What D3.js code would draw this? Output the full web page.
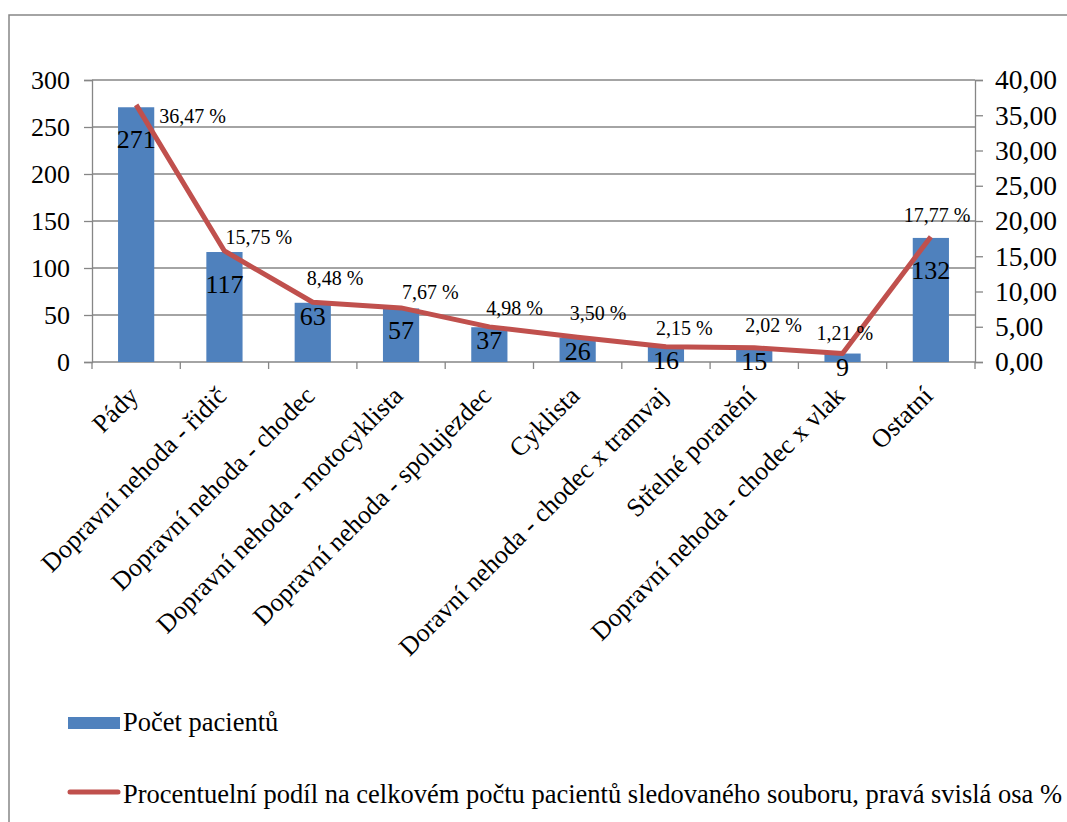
<!DOCTYPE html>
<html>
<head>
<meta charset="utf-8">
<script src="https://d3js.org/d3.v7.min.js"></script>
<style>
body { margin: 0; background: #fff; }
</style>
</head>
<body>
<svg id="chart" width="1067" height="822"></svg>
<script>
// data
var categories = ["Pády", "Dopravní nehoda - řidič", "Dopravní nehoda - chodec",
  "Dopravní nehoda - motocyklista", "Dopravní nehoda - spolujezdec", "Cyklista",
  "Doravní nehoda - chodec x tramvaj", "Střelné poranění",
  "Dopravní nehoda - chodec x vlak", "Ostatní"];
var patients = [271, 117, 63, 57, 37, 26, 16, 15, 9, 132];
var percent = [36.47, 15.75, 8.48, 7.67, 4.98, 3.50, 2.15, 2.02, 1.21, 17.77];
var leftTicks = [0, 50, 100, 150, 200, 250, 300];
var rightTicks = [0, 5, 10, 15, 20, 25, 30, 35, 40];
var barName = "Počet pacientů";
var lineName = "Procentuelní podíl na celkovém počtu pacientů sledovaného souboru, pravá svislá osa %";

var blue = "#4F81BD", red = "#C0504D", grey = "#868686";
var plotL = 92, plotR = 975, plotT = 80, plotB = 362;
var serif = "'Liberation Serif', serif";

var svg = d3.select("#chart");

// outer frame (right and bottom edges fall outside the picture)
svg.append("rect").attr("x", 9).attr("y", 15).attr("width", 1200).attr("height", 1000)
  .attr("fill", "none").attr("stroke", grey).attr("stroke-width", 1.5);

var x = d3.scaleBand().domain(categories).range([plotL, plotR])
  .paddingInner(0.59).paddingOuter(0.295);
var step = (plotR - plotL) / categories.length;
var yL = d3.scaleLinear().domain([0, 300]).range([plotB, plotT]);
var yR = d3.scaleLinear().domain([0, 40]).range([plotB, plotT]);

// gridlines
svg.append("g").selectAll("line").data(leftTicks.filter(function(d){ return d > 0; }))
  .enter().append("line")
  .attr("x1", plotL).attr("x2", plotR)
  .attr("y1", function(d){ return yL(d); }).attr("y2", function(d){ return yL(d); })
  .attr("stroke", grey).attr("stroke-width", 1.3);

// left axis
var axL = svg.append("g").attr("transform", "translate(" + plotL + ",0)")
  .call(d3.axisLeft(yL).tickValues(leftTicks).tickSize(8).tickPadding(14));
// right axis
var axR = svg.append("g").attr("transform", "translate(" + plotR + ",0)")
  .call(d3.axisRight(yR).tickValues(rightTicks).tickSize(8).tickPadding(12)
    .tickFormat(function(d){ return d3.format(".2f")(d).replace(".", ","); }));
[axL, axR].forEach(function(a){
  a.select(".domain").attr("stroke", grey).attr("stroke-width", 1.3);
  a.selectAll(".tick line").attr("stroke", grey).attr("stroke-width", 1.3);
  a.selectAll("text").attr("fill", "#000").style("font-size", "26px");
});
axR.selectAll("text").style("font-size", "27.5px");

// bottom axis line and category ticks
svg.append("line").attr("x1", plotL).attr("x2", plotR).attr("y1", plotB).attr("y2", plotB)
  .attr("stroke", grey).attr("stroke-width", 1.3);
svg.append("g").selectAll("line").data(d3.range(categories.length + 1)).enter().append("line")
  .attr("x1", function(i){ return plotL + i * step; }).attr("x2", function(i){ return plotL + i * step; })
  .attr("y1", plotB).attr("y2", plotB + 7)
  .attr("stroke", grey).attr("stroke-width", 1.3);

// bars
svg.append("g").selectAll("rect").data(patients).enter().append("rect")
  .attr("x", function(d, i){ return x(categories[i]); })
  .attr("y", function(d){ return yL(d); })
  .attr("width", x.bandwidth())
  .attr("height", function(d){ return plotB - yL(d); })
  .attr("fill", blue);

// bar labels (some pushed down a bit, like in the original)
var barNudge = [19, 19, 0, 9, 0, 0, 0, 0, 0, 19];
svg.append("g").selectAll("text").data(patients).enter().append("text")
  .attr("x", function(d, i){ return x(categories[i]) + x.bandwidth() / 2; })
  .attr("y", function(d, i){ return yL(d) + 22 + barNudge[i]; })
  .attr("text-anchor", "middle").style("font-size", "26px")
  .text(function(d){ return d; });

// line
var cx = function(i){ return x(categories[i]) + x.bandwidth() / 2; };
var line = d3.line().x(function(d, i){ return cx(i); }).y(function(d){ return yR(d); });
svg.append("path").datum(percent).attr("d", line)
  .attr("fill", "none").attr("stroke", red).attr("stroke-width", 5)
  .attr("stroke-linejoin", "round");

// percent labels
var pctNudge = [[23, 18], [1, -7], [-6, -17], [1, -9], [-3, -12], [-8, -17], [-10, -12], [-9, -16], [-26, -13], [-27, -15]];
svg.append("g").selectAll("text").data(percent).enter().append("text")
  .attr("x", function(d, i){ return cx(i) + pctNudge[i][0]; })
  .attr("y", function(d, i){ return yR(d) + pctNudge[i][1]; })
  .style("font-size", "20px")
  .text(function(d){ return d3.format(".2f")(d).replace(".", ",") + " %"; });

// category labels
svg.append("g").selectAll("text").data(categories).enter().append("text")
  .attr("transform", function(d, i){ return "translate(" + (cx(i) - 3) + "," + (plotB + 29) + ") rotate(-45)"; })
  .attr("text-anchor", "end").attr("dy", "0.35em")
  .style("font-size", "26px")
  .text(function(d){ return d; });

// legend
var lg = svg.append("g");
lg.append("rect").attr("x", 68).attr("y", 717).attr("width", 52).attr("height", 12).attr("fill", blue);
lg.append("text").attr("x", 123).attr("y", 731).style("font-size", "26.5px").text(barName);
lg.append("line").attr("x1", 70).attr("x2", 118).attr("y1", 792).attr("y2", 792)
  .attr("stroke", red).attr("stroke-width", 5).attr("stroke-linecap", "round");
lg.append("text").attr("x", 123).attr("y", 803).style("font-size", "26.5px").text(lineName);

// same serif face on every text
svg.selectAll("text").style("font-family", serif).attr("fill", "#000");
</script>
</body>
</html>
